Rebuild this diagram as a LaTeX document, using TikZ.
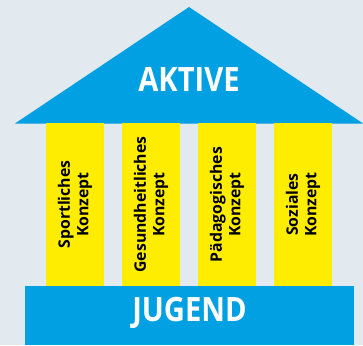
\documentclass[tikz,border=0pt]{standalone}
\usepackage{fontspec}
\setmainfont{Open Sans}
\newfontfamily\bigfont[FakeStretch=0.87]{Open Sans}
\definecolor{roofblue}{RGB}{0,160,226}
\definecolor{pillaryellow}{RGB}{255,237,0}
\definecolor{bg}{RGB}{226,233,239}
\begin{document}
\begin{tikzpicture}[x=1pt,y=-1pt,
  pillar/.style={fill=pillaryellow,draw=none,minimum width=58pt,minimum height=163pt,inner sep=0pt},
  pillartext/.style={rotate=90,align=center,font=\fontsize{15.8}{18.5}\selectfont\bfseries,text=black,inner sep=0pt},
  bigtext/.style={font=\bigfont\fontsize{33.5}{36}\selectfont\bfseries,text=white,inner sep=0pt}]
\fill[bg] (0,0) rectangle (363,345);
\useasboundingbox (0,0) rectangle (363,345);
% roof
\fill[roofblue] (15,123.5) -- (189,7) -- (363,123.5) -- cycle;
\node[bigtext] (aktive) at (189,79) {AKTIVE};
% pillars
\node[pillar] (p1) at (75,204.5) {};
\node[pillar] (p2) at (151,204.5) {};
\node[pillar] (p3) at (227,204.5) {};
\node[pillar] (p4) at (303,204.5) {};
\node[pillartext] (t1) at (p1.center) {Sportliches\\Konzept};
\node[pillartext] (t2) at (p2.center) {Gesundheitliches\\Konzept};
\node[pillartext] (t3) at (p3.center) {Pädagogisches\\Konzept};
\node[pillartext] (t4) at (p4.center) {Soziales\\Konzept};
% base
\fill[roofblue] (25,286) rectangle (354,345);
\node[bigtext] (jugend) at (189.5,312.5) {JUGEND};
\end{tikzpicture}
\end{document}
